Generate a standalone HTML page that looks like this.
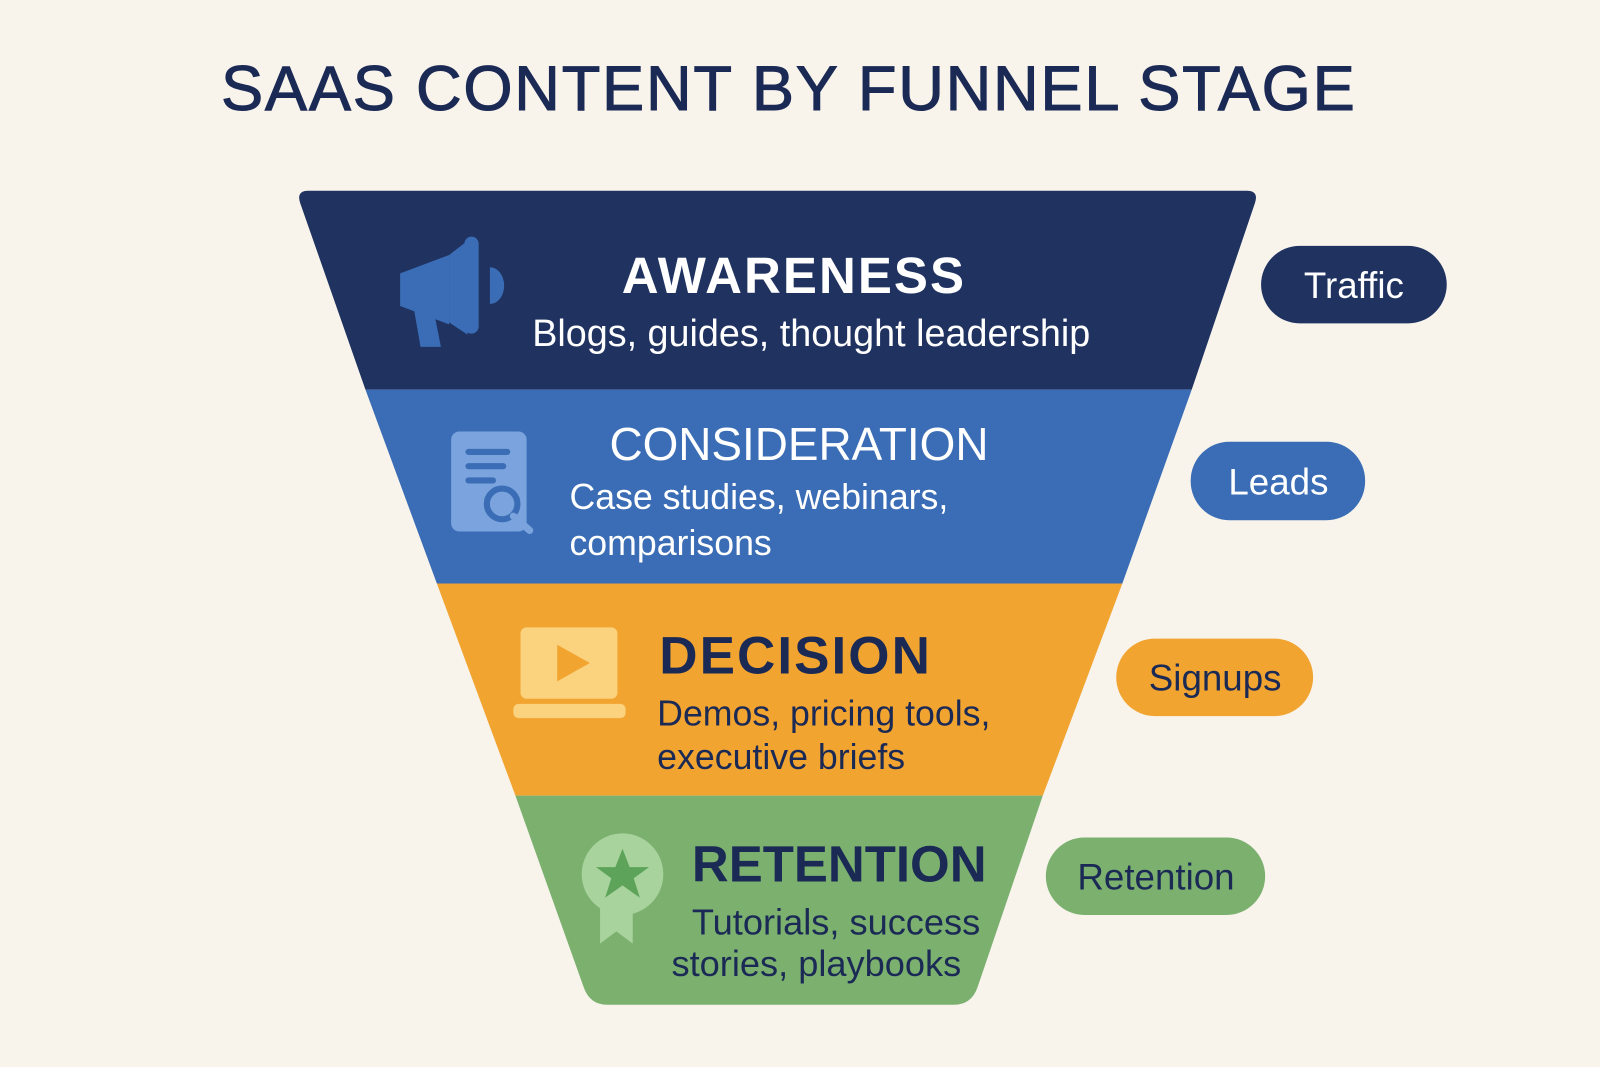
<!DOCTYPE html>
<html><head><meta charset="utf-8"><style>
html,body{margin:0;padding:0;background:#f8f4ec;}
svg{display:block}
text{font-family:"Liberation Sans","DejaVu Sans",sans-serif;}
</style></head><body>
<svg width="1600" height="1067" viewBox="0 0 1568 1046" xmlns="http://www.w3.org/2000/svg">
<rect width="1568" height="1046" fill="#f8f4ec"/>
<text x="773" y="108" text-anchor="middle" font-size="62" fill="#1b2a55" letter-spacing="1.7" stroke="#1b2a55" stroke-width="1">SAAS CONTENT BY FUNNEL STAGE</text>
<path d="M302 187 L1222 187 Q1234 187 1230 199 L1168 382 L358 382 L294 199 Q290 187 302 187Z" fill="#1f3260"/>
<path d="M358 382 L1168 382 L1100 572 L428 572Z" fill="#3a6db5"/>
<path d="M428 572 L1100 572 L1022 780 L505 780Z" fill="#f2a431"/>
<path d="M505 780 L1022 780 L958 968 Q952 985 935 985 L595 985 Q578 985 572 968Z" fill="#7bb06f"/>
<g fill="#3a6db5">
<path d="M392 268 L440 250 L440 318 L392 300Z"/>
<rect x="455" y="232" width="14" height="95" rx="7"/>
<path d="M440 250 L458 236 L458 328 L440 316Z"/>
<path d="M480 262 a14 18 0 0 1 0 36Z"/>
<path d="M405 300 L425 305 L432 340 L412 340Z"/>
</g>
<g>
<rect x="442" y="423" width="74" height="98" rx="8" fill="#7ba3dd"/>
<rect x="456" y="440" width="44" height="6" rx="3" fill="#3a6db5"/>
<rect x="456" y="454" width="40" height="6" rx="3" fill="#3a6db5"/>
<rect x="456" y="468" width="30" height="6" rx="3" fill="#3a6db5"/>
<circle cx="492" cy="494" r="15" fill="none" stroke="#3a6db5" stroke-width="6"/>
<line x1="503" y1="506" x2="519" y2="520" stroke="#7ba3dd" stroke-width="7" stroke-linecap="round"/>
</g>
<g>
<rect x="510" y="615" width="95" height="70" rx="6" fill="#fbd27e"/>
<path d="M546 632 L578 650 L546 668Z" fill="#f2a431"/>
<rect x="503" y="690" width="110" height="14" rx="5" fill="#fbd27e"/>
</g>
<g>
<path d="M588 885 L588 925 L604 913 L620 925 L620 885Z" fill="#a8d39c"/>
<circle cx="610" cy="857" r="40" fill="#a8d39c"/>
<polygon points="610,832 617,850 636,850 621,861 627,880 610,868 593,880 599,861 584,850 603,850" fill="#5da45a"/>
</g>
<text x="778" y="287" text-anchor="middle" font-size="50" font-weight="bold" fill="#fff" letter-spacing="2">AWARENESS</text>
<text x="795" y="339" text-anchor="middle" font-size="37" fill="#fff">Blogs, guides, thought leadership</text>
<text x="783" y="451" text-anchor="middle" font-size="45" fill="#fff">CONSIDERATION</text>
<text x="558" y="499" font-size="35" fill="#fff">Case studies, webinars,</text>
<text x="558" y="544" font-size="35" fill="#fff">comparisons</text>
<text x="646" y="660" font-size="52" font-weight="bold" fill="#1b2a55" letter-spacing="2">DECISION</text>
<text x="644" y="711" font-size="35" fill="#1b2a55">Demos, pricing tools,</text>
<text x="644" y="754" font-size="35" fill="#1b2a55">executive briefs</text>
<text x="678" y="864" font-size="50" font-weight="bold" fill="#1b2a55" letter-spacing="0">RETENTION</text>
<text x="678" y="916" font-size="35.5" fill="#1b2a55">Tutorials, success</text>
<text x="658" y="957" font-size="35.5" fill="#1b2a55">stories, playbooks</text>
<rect x="1236" y="241" width="182" height="76" rx="38" fill="#1f3260"/>
<text x="1327" y="292" text-anchor="middle" font-size="36" fill="#fff">Traffic</text>
<rect x="1167" y="433" width="171" height="77" rx="38" fill="#3a6db5"/>
<text x="1253" y="485" text-anchor="middle" font-size="36" fill="#fff">Leads</text>
<rect x="1094" y="626" width="193" height="76" rx="38" fill="#f2a431"/>
<text x="1191" y="677" text-anchor="middle" font-size="36" fill="#1b2a55">Signups</text>
<rect x="1025" y="821" width="215" height="76" rx="38" fill="#7bb06f"/>
<text x="1133" y="872" text-anchor="middle" font-size="36" fill="#1b2a55">Retention</text>
</svg>
</body></html>
